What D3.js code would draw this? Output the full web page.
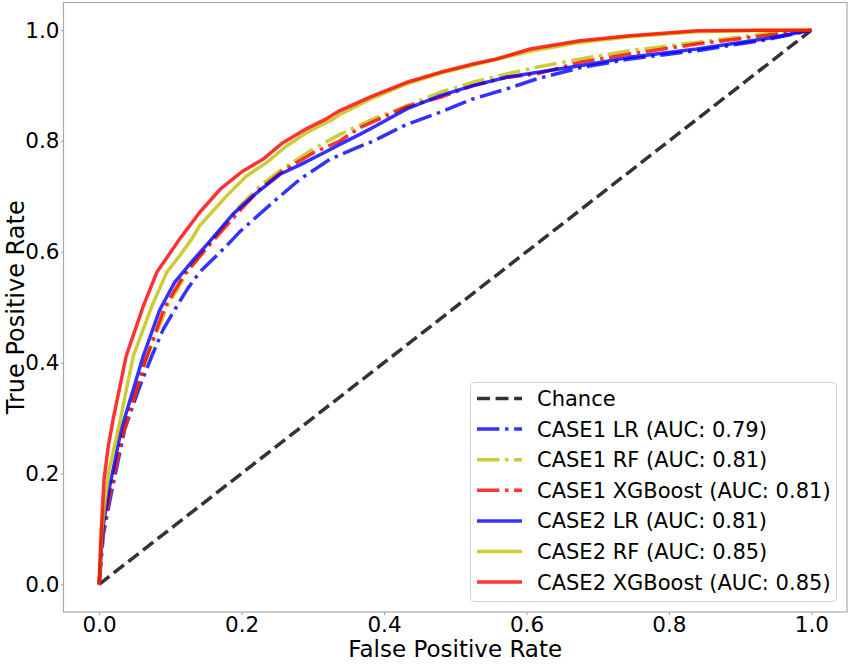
<!DOCTYPE html>
<html>
<head>
<meta charset="utf-8">
<script src="https://cdn.jsdelivr.net/npm/d3@7"></script>
<style>
  html, body { margin: 0; padding: 0; background: #fff; }
  svg { display: block; font-family: "DejaVu Sans", sans-serif; }
</style>
</head>
<body>
<svg id="chart" width="850" height="664"></svg>
<script>
// ---- data ----
const ticks = [0.0, 0.2, 0.4, 0.6, 0.8, 1.0];
const tickLabels = ["0.0", "0.2", "0.4", "0.6", "0.8", "1.0"];

const chance = [[0, 0], [1, 1]];

const case1LR = [[0,0],[0.006,0.09],[0.018,0.17],[0.036,0.28],[0.055,0.35],[0.074,0.412],[0.090,0.46],[0.109,0.502],[0.125,0.535],[0.141,0.563],[0.160,0.587],[0.179,0.611],[0.198,0.637],[0.249,0.695],[0.282,0.731],[0.324,0.767],[0.362,0.788],[0.385,0.800],[0.432,0.830],[0.479,0.852],[0.525,0.876],[0.572,0.894],[0.614,0.912],[0.675,0.932],[0.745,0.948],[0.839,0.963],[0.933,0.982],[1,1]];
const case1RF = [[0,0],[0.005,0.09],[0.016,0.17],[0.033,0.27],[0.064,0.40],[0.095,0.50],[0.122,0.56],[0.158,0.62],[0.198,0.683],[0.226,0.719],[0.260,0.752],[0.300,0.785],[0.338,0.812],[0.385,0.840],[0.432,0.864],[0.479,0.888],[0.525,0.906],[0.572,0.921],[0.614,0.933],[0.675,0.948],[0.745,0.963],[0.839,0.978],[0.933,0.993],[1,1]];
const case1XGB = [[0,0],[0.005,0.09],[0.016,0.17],[0.033,0.27],[0.064,0.40],[0.092,0.50],[0.120,0.56],[0.158,0.617],[0.198,0.675],[0.226,0.713],[0.258,0.746],[0.301,0.779],[0.338,0.800],[0.366,0.824],[0.385,0.835],[0.432,0.862],[0.479,0.879],[0.525,0.900],[0.572,0.915],[0.614,0.921],[0.675,0.942],[0.745,0.957],[0.839,0.975],[0.933,0.990],[1,1]];
const case2LR = [[0,0],[0.005,0.10],[0.015,0.177],[0.031,0.279],[0.062,0.412],[0.085,0.495],[0.106,0.545],[0.132,0.585],[0.158,0.623],[0.188,0.668],[0.216,0.701],[0.254,0.740],[0.282,0.757],[0.319,0.781],[0.338,0.794],[0.366,0.812],[0.385,0.825],[0.432,0.858],[0.479,0.882],[0.525,0.900],[0.572,0.915],[0.605,0.922],[0.675,0.936],[0.745,0.951],[0.839,0.966],[0.933,0.984],[1,1]];
const case2RF = [[0,0],[0.004,0.10],[0.013,0.20],[0.027,0.28],[0.048,0.412],[0.074,0.502],[0.095,0.563],[0.113,0.593],[0.130,0.623],[0.141,0.647],[0.179,0.701],[0.207,0.737],[0.235,0.761],[0.263,0.791],[0.291,0.815],[0.329,0.840],[0.338,0.848],[0.385,0.878],[0.432,0.903],[0.479,0.922],[0.525,0.937],[0.605,0.962],[0.675,0.978],[0.745,0.988],[0.839,0.997],[0.933,1.0],[1,1]];
const case2XGB = [[0,0],[0.003,0.10],[0.007,0.19],[0.013,0.25],[0.020,0.30],[0.038,0.412],[0.062,0.502],[0.081,0.563],[0.113,0.623],[0.141,0.671],[0.170,0.713],[0.202,0.746],[0.230,0.767],[0.258,0.797],[0.291,0.822],[0.319,0.840],[0.338,0.855],[0.385,0.882],[0.432,0.906],[0.479,0.924],[0.525,0.939],[0.558,0.948],[0.605,0.966],[0.675,0.981],[0.745,0.990],[0.839,0.999],[0.933,1.0],[1,1]];

const seriesNames = ["Chance","CASE1 LR (AUC: 0.79)","CASE1 RF (AUC: 0.81)","CASE1 XGBoost (AUC: 0.81)","CASE2 LR (AUC: 0.81)","CASE2 RF (AUC: 0.85)","CASE2 XGBoost (AUC: 0.85)"];
const seriesData = [chance, case1LR, case1RF, case1XGB, case2LR, case2RF, case2XGB];
const seriesColors = ["#000000","#0000ff","#bfbf00","#ff0000","#0000ff","#bfbf00","#ff0000"];
const seriesDash = ["dash","dashdot","dashdot","dashdot","solid","solid","solid"];

// ---- layout ----
const svg = d3.select("#chart");
const L = 63.5, R = 847, T = 2.5, B = 612;
const x = d3.scaleLinear().domain([-0.05, 1.05]).range([L, R]);
const y = d3.scaleLinear().domain([-0.05, 1.05]).range([B, T]);
const lw = 3.5;
const dashes = {
  dash: `${3.7*lw},${1.6*lw}`,
  dashdot: `${6.4*lw},${1.6*lw},${1*lw},${1.6*lw}`,
  solid: null
};

svg.append("clipPath").attr("id","clip").append("rect")
  .attr("x", L).attr("y", T).attr("width", R-L).attr("height", B-T);

// lines
const line = d3.line().x(d => x(d[0])).y(d => y(d[1]));
const gLines = svg.append("g").attr("clip-path","url(#clip)");
seriesData.forEach((data, i) => {
  gLines.append("path")
    .datum(data)
    .attr("d", line)
    .attr("fill","none")
    .attr("stroke", seriesColors[i])
    .attr("stroke-opacity", 0.8)
    .attr("stroke-width", lw)
    .attr("stroke-dasharray", dashes[seriesDash[i]])
    .attr("stroke-linejoin","round");
});

// axes
const xAxis = d3.axisBottom(x).tickValues(ticks).tickFormat((d,i) => tickLabels[i]).tickSize(3).tickPadding(2);
const yAxis = d3.axisLeft(y).tickValues(ticks).tickFormat((d,i) => tickLabels[i]).tickSize(2.5).tickPadding(1.5);
const gx = svg.append("g").attr("transform", `translate(0,${B})`).call(xAxis);
const gy = svg.append("g").attr("transform", `translate(${L},0)`).call(yAxis);
[gx, gy].forEach(g => {
  g.select(".domain").remove();
  g.selectAll(".tick line").attr("stroke","#999").attr("stroke-width",1);
  g.selectAll(".tick text").attr("fill","#000").style("font-size","21.5px").style("font-family","DejaVu Sans");
});

// frame
svg.append("rect").attr("x", L).attr("y", T).attr("width", R-L).attr("height", B-T)
  .attr("fill","none").attr("stroke","#aaaaaa").attr("stroke-width",1.2);

// axis labels
svg.append("text").attr("x", (L+R)/2).attr("y", 656.5)
  .attr("text-anchor","middle").style("font-size","23px").text("False Positive Rate");
svg.append("text").attr("transform", `translate(24,${(T+B)/2}) rotate(-90)`)
  .attr("text-anchor","middle").style("font-size","24px").text("True Positive Rate");

// legend
const lg = svg.append("g");
lg.append("rect").attr("x",470.5).attr("y",382.5).attr("width",366).attr("height",219)
  .attr("rx",4).attr("fill","#fff").attr("fill-opacity",0.8).attr("stroke","#d0d0d0").attr("stroke-width",1);
seriesNames.forEach((name, i) => {
  const cy = 398.5 + i*30.6;
  lg.append("line").attr("x1",477).attr("x2",522).attr("y1",cy).attr("y2",cy)
    .attr("stroke", seriesColors[i]).attr("stroke-opacity",0.8).attr("stroke-width",lw)
    .attr("stroke-dasharray", dashes[seriesDash[i]]);
  lg.append("text").attr("x",537).attr("y",cy).attr("dy","0.36em")
    .style("font-size","21px").attr("fill","#000").text(name);
});
</script>
</body>
</html>
